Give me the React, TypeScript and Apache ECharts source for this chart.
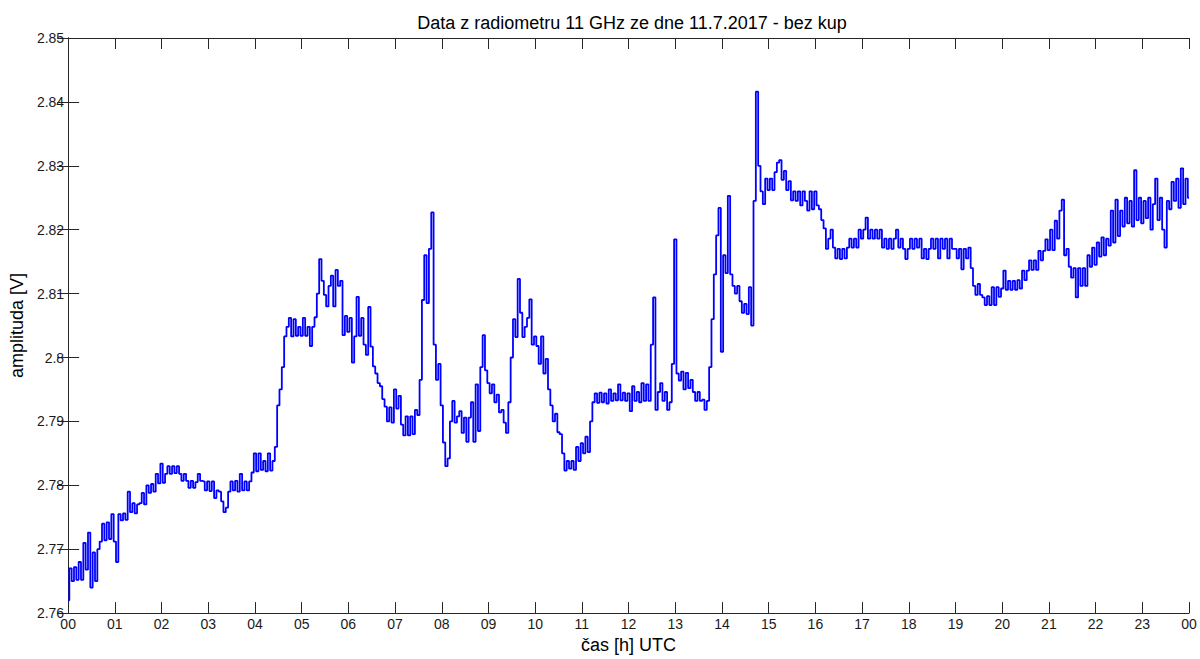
import React, { useEffect, useRef } from "react";
import * as echarts from "echarts";

// Radiometer readings, one sample every 3 minutes (0.05 h), 00:00 to 24:00 UTC
const SAMPLE_STEP_H = 0.05;
const amplitude: number[] = [
  // 00 h
  2.7620, 2.7670, 2.7650, 2.7672, 2.7652, 2.7680, 2.7652, 2.7710, 2.7668, 2.7726,
  2.7640, 2.7695, 2.7650, 2.7700, 2.7712, 2.7740, 2.7714, 2.7742, 2.7716, 2.7755,
  // 01 h
  2.7712, 2.7680, 2.7755, 2.7745, 2.7756, 2.7746, 2.7790, 2.7758, 2.7772, 2.7756,
  2.7770, 2.7772, 2.7788, 2.7770, 2.7800, 2.7788, 2.7802, 2.7790, 2.7818, 2.7803,
  // 02 h
  2.7834, 2.7804, 2.7818, 2.7830, 2.7818, 2.7830, 2.7819, 2.7830, 2.7818, 2.7807,
  2.7818, 2.7807, 2.7796, 2.7807, 2.7796, 2.7805, 2.7818, 2.7807, 2.7806, 2.7792,
  // 03 h
  2.7806, 2.7791, 2.7806, 2.7780, 2.7792, 2.7790, 2.7775, 2.7758, 2.7765, 2.7790,
  2.7806, 2.7792, 2.7807, 2.7790, 2.7818, 2.7792, 2.7806, 2.7792, 2.7806, 2.7820,
  // 04 h
  2.7850, 2.7822, 2.7850, 2.7824, 2.7838, 2.7822, 2.7850, 2.7823, 2.7838, 2.7860,
  2.7925, 2.7950, 2.7985, 2.8033, 2.8048, 2.8062, 2.8033, 2.8060, 2.8034, 2.8048,
  // 05 h
  2.8034, 2.8062, 2.8034, 2.8048, 2.8018, 2.8048, 2.8063, 2.8100, 2.8154, 2.8120,
  2.8098, 2.8080, 2.8112, 2.8128, 2.8080, 2.8137, 2.8112, 2.8120, 2.8035, 2.8065,
  // 06 h
  2.8040, 2.8062, 2.7992, 2.8033, 2.8095, 2.8034, 2.8062, 2.8020, 2.8004, 2.8079,
  2.8017, 2.7986, 2.7975, 2.7960, 2.7955, 2.7935, 2.7923, 2.7900, 2.7922, 2.7898,
  // 07 h
  2.7950, 2.7920, 2.7940, 2.7895, 2.7878, 2.7908, 2.7878, 2.7908, 2.7880, 2.7918,
  2.7910, 2.7965, 2.8090, 2.8160, 2.8085, 2.8170, 2.8227, 2.8020, 2.7965, 2.7990,
  // 08 h
  2.7925, 2.7867, 2.7830, 2.7842, 2.7900, 2.7932, 2.7898, 2.7908, 2.7916, 2.7882,
  2.7906, 2.7868, 2.7906, 2.7930, 2.7868, 2.7958, 2.7885, 2.7985, 2.8035, 2.7980,
  // 09 h
  2.7960, 2.7944, 2.7958, 2.7930, 2.7942, 2.7914, 2.7918, 2.7898, 2.7882, 2.7930,
  2.8000, 2.8060, 2.8032, 2.8123, 2.8070, 2.8032, 2.8048, 2.8062, 2.8091, 2.8020,
  // 10 h
  2.8033, 2.8018, 2.7990, 2.8033, 2.7975, 2.7998, 2.7950, 2.7925, 2.7900, 2.7912,
  2.7883, 2.7880, 2.7850, 2.7823, 2.7838, 2.7826, 2.7838, 2.7824, 2.7860, 2.7838,
  // 11 h
  2.7866, 2.7850, 2.7876, 2.7852, 2.7900, 2.7930, 2.7944, 2.7929, 2.7945, 2.7930,
  2.7944, 2.7928, 2.7950, 2.7932, 2.7944, 2.7933, 2.7958, 2.7933, 2.7945, 2.7932,
  // 12 h
  2.7944, 2.7916, 2.7955, 2.7932, 2.7946, 2.7930, 2.7960, 2.7932, 2.7958, 2.7932,
  2.8020, 2.8094, 2.7918, 2.7946, 2.7960, 2.7932, 2.7946, 2.7918, 2.7930, 2.7990,
  // 13 h
  2.8185, 2.7975, 2.7964, 2.7978, 2.7950, 2.7976, 2.7952, 2.7965, 2.7946, 2.7932,
  2.7946, 2.7932, 2.7934, 2.7918, 2.7932, 2.7985, 2.8060, 2.8130, 2.8191, 2.8234,
  // 14 h
  2.8009, 2.8160, 2.8132, 2.8253, 2.8130, 2.8112, 2.8100, 2.8112, 2.8088, 2.8070,
  2.8084, 2.8068, 2.8110, 2.8050, 2.8245, 2.8416, 2.8300, 2.8260, 2.8240, 2.8280,
  // 15 h
  2.8262, 2.8280, 2.8262, 2.8290, 2.8305, 2.8309, 2.8278, 2.8292, 2.8262, 2.8276,
  2.8246, 2.8260, 2.8245, 2.8260, 2.8238, 2.8260, 2.8245, 2.8230, 2.8260, 2.8232,
  // 16 h
  2.8260, 2.8238, 2.8232, 2.8215, 2.8202, 2.8170, 2.8186, 2.8200, 2.8172, 2.8155,
  2.8170, 2.8154, 2.8170, 2.8155, 2.8172, 2.8186, 2.8172, 2.8186, 2.8172, 2.8200,
  // 17 h
  2.8186, 2.8200, 2.8219, 2.8186, 2.8200, 2.8186, 2.8200, 2.8186, 2.8200, 2.8172,
  2.8186, 2.8170, 2.8186, 2.8170, 2.8186, 2.8200, 2.8172, 2.8186, 2.8170, 2.8154,
  // 18 h
  2.8170, 2.8186, 2.8170, 2.8186, 2.8172, 2.8186, 2.8155, 2.8170, 2.8154, 2.8170,
  2.8186, 2.8170, 2.8186, 2.8155, 2.8186, 2.8170, 2.8186, 2.8155, 2.8186, 2.8170,
  // 19 h
  2.8170, 2.8155, 2.8170, 2.8138, 2.8170, 2.8155, 2.8172, 2.8140, 2.8112, 2.8098,
  2.8115, 2.8098, 2.8094, 2.8082, 2.8096, 2.8082, 2.8110, 2.8082, 2.8110, 2.8095,
  // 20 h
  2.8108, 2.8136, 2.8106, 2.8120, 2.8106, 2.8120, 2.8106, 2.8121, 2.8108, 2.8136,
  2.8121, 2.8136, 2.8152, 2.8137, 2.8152, 2.8137, 2.8167, 2.8152, 2.8167, 2.8185,
  // 21 h
  2.8168, 2.8200, 2.8168, 2.8214, 2.8186, 2.8230, 2.8247, 2.8160, 2.8170, 2.8142,
  2.8125, 2.8140, 2.8094, 2.8140, 2.8112, 2.8140, 2.8112, 2.8160, 2.8142, 2.8172,
  // 22 h
  2.8145, 2.8180, 2.8158, 2.8188, 2.8160, 2.8186, 2.8175, 2.8230, 2.8180, 2.8247,
  2.8190, 2.8230, 2.8205, 2.8250, 2.8210, 2.8245, 2.8205, 2.8293, 2.8215, 2.8250,
  // 23 h
  2.8210, 2.8245, 2.8218, 2.8250, 2.8200, 2.8240, 2.8280, 2.8215, 2.8250, 2.8200,
  2.8172, 2.8245, 2.8232, 2.8275, 2.8245, 2.8280, 2.8234, 2.8296, 2.8240, 2.8280,
  // 24 h
  2.8250,
];

const hourTicks = { min: 0, max: 24, interval: 1 };
const voltTicks = { min: 2.76, max: 2.85, interval: 0.01 };

const TITLE = "Data z radiometru 11 GHz ze dne 11.7.2017 - bez kup";
const X_NAME = "čas [h] UTC";
const Y_NAME = "amplituda [V]";

const FONT = "'Liberation Sans', Arial, Helvetica, sans-serif";
const AXIS_COLOR = "#262626";

export default function App() {
  const ref = useRef<HTMLDivElement>(null);

  useEffect(() => {
    if (!ref.current) return;
    const chart = echarts.init(ref.current, undefined, { renderer: "svg" });

    const points = amplitude.map((v, i) => [i * SAMPLE_STEP_H, v]);

    const tickStyle = {
      show: true,
      inside: true,
      length: 11,
      lineStyle: { color: AXIS_COLOR, width: 1 },
    };
    const lineStyle = { show: true, lineStyle: { color: AXIS_COLOR, width: 1 } };

    chart.setOption({
      animation: false,
      backgroundColor: "#ffffff",
      title: {
        text: TITLE,
        left: 627,
        top: 9,
        textAlign: "center",
        textStyle: { fontFamily: FONT, fontSize: 18, fontWeight: "normal", color: "#000" },
      },
      grid: { left: 65, right: 11, top: 38, bottom: 40, containLabel: false },
      xAxis: [
        {
          type: "value",
          position: "bottom",
          ...hourTicks,
          axisLine: lineStyle,
          axisTick: tickStyle,
          splitLine: { show: false },
          axisLabel: {
            margin: 4,
            fontFamily: FONT,
            fontSize: 14,
            color: "#1a1a1a",
            formatter: (h: number) => String(Math.round(h) % 24).padStart(2, "0"),
          },
          name: X_NAME,
          nameLocation: "middle",
          nameGap: 10,
          nameTextStyle: { fontFamily: FONT, fontSize: 18, color: "#000", verticalAlign: "top" },
        },
        {
          type: "value",
          position: "top",
          ...hourTicks,
          axisLine: lineStyle,
          axisTick: tickStyle,
          splitLine: { show: false },
          axisLabel: { show: false },
        },
      ],
      yAxis: [
        {
          type: "value",
          position: "left",
          ...voltTicks,
          axisLine: lineStyle,
          axisTick: tickStyle,
          splitLine: { show: false },
          axisLabel: {
            margin: 4,
            fontFamily: FONT,
            fontSize: 14,
            color: "#1a1a1a",
            formatter: (v: number) => String(parseFloat(v.toFixed(2))),
          },
          name: Y_NAME,
          nameLocation: "middle",
          nameGap: 40,
          nameRotate: 90,
          nameTextStyle: { fontFamily: FONT, fontSize: 18, color: "#000" },
        },
        {
          type: "value",
          position: "right",
          ...voltTicks,
          axisLine: lineStyle,
          axisTick: tickStyle,
          splitLine: { show: false },
          axisLabel: { show: false },
        },
      ],
      series: [
        {
          type: "line",
          xAxisIndex: 0,
          yAxisIndex: 0,
          data: points,
          step: "middle",
          showSymbol: false,
          symbol: "none",
          lineStyle: { color: "#0000ff", width: 1.8 },
          emphasis: { disabled: true },
          silent: true,
        },
      ],
    });

    return () => chart.dispose();
  }, []);

  return (
    <div
      ref={ref}
      style={{ position: "fixed", left: 0, top: 0, width: 1200, height: 659, background: "#fff" }}
    />
  );
}
